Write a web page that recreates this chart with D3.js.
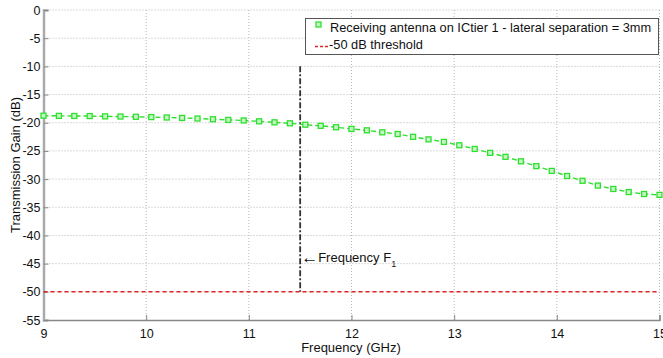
<!DOCTYPE html>
<html><head><meta charset="utf-8">
<script src="https://cdn.jsdelivr.net/npm/d3@7"></script>
<style>
body{margin:0;background:#fff;}
text{font-family:"Liberation Sans",Arial,Helvetica,sans-serif;}
</style></head>
<body><svg id="c" width="663" height="358"></svg>
<script>
const freq = [9.00,9.15,9.30,9.45,9.60,9.75,9.90,10.05,10.20,10.35,10.50,10.65,10.80,10.95,11.10,11.25,11.40,11.55,11.70,11.85,12.00,12.15,12.30,12.45,12.60,12.75,12.90,13.05,13.20,13.35,13.50,13.65,13.80,13.95,14.10,14.25,14.40,14.55,14.70,14.85,15.00];
const gain = [-18.75,-18.78,-18.80,-18.82,-18.87,-18.90,-18.95,-19.00,-19.07,-19.15,-19.25,-19.38,-19.50,-19.60,-19.75,-19.93,-20.10,-20.35,-20.55,-20.80,-21.10,-21.35,-21.70,-22.00,-22.50,-22.95,-23.40,-24.00,-24.65,-25.35,-26.05,-26.85,-27.70,-28.55,-29.45,-30.30,-31.15,-31.75,-32.30,-32.65,-32.80];
const threshold = -50;
const f1 = 11.5;
const f1Top = -10;
const xTicks = [9,10,11,12,13,14,15];
const yTicks = [0,-5,-10,-15,-20,-25,-30,-35,-40,-45,-50,-55];
const seriesLabel = "Receiving antenna on ICtier 1 - lateral separation = 3mm";
const thresholdLabel = "-50 dB threshold";

const svg = d3.select("#c");
const L=43.5, R=659.5, T=10, B=320;
const x = d3.scaleLinear().domain([9,15]).range([L,R]);
const y = d3.scaleLinear().domain([-55,0]).range([B,T]);
const green = "#2ee02e", red = "#e02424";

// grid
const g = svg.append("g");
g.selectAll("line.gx").data(xTicks.slice(1)).enter().append("line")
 .attr("x1",d=>x(d)).attr("x2",d=>x(d)).attr("y1",T).attr("y2",B)
 .attr("stroke","#b8b8b8").attr("stroke-width",1).attr("stroke-dasharray","1,2");
g.selectAll("line.gy").data(yTicks.slice(0,-1)).enter().append("line")
 .attr("x1",L).attr("x2",R).attr("y1",d=>y(d)).attr("y2",d=>y(d))
 .attr("stroke","#b8b8b8").attr("stroke-width",1).attr("stroke-dasharray","1,2");

// axes
const fmt = d=>String(d);
const xAxis = d3.axisBottom(x).tickValues(xTicks).tickSize(-5).tickPadding(9).tickFormat(fmt);
const yAxis = d3.axisLeft(y).tickValues(yTicks).tickSize(-5).tickPadding(3).tickFormat(fmt);
const gx = svg.append("g").attr("transform",`translate(0,${B})`).call(xAxis);
const gy = svg.append("g").attr("transform",`translate(${L},0)`).call(yAxis);
gx.select(".domain").attr("stroke","#888").attr("stroke-width",1.5);
gy.select(".domain").attr("stroke","#aaa").attr("stroke-width",2.5);
[gx,gy].forEach(a=>{a.selectAll(".tick line").attr("stroke","#888");
 a.selectAll(".tick text").attr("fill","#111").style("font-size","12.5px").style("font-family","Liberation Sans, Arial, sans-serif");});

// threshold
svg.append("line").attr("x1",x(9)).attr("x2",x(15)).attr("y1",y(threshold)).attr("y2",y(threshold))
 .attr("stroke",red).attr("stroke-width",1.6).attr("stroke-dasharray","4,3");

// F1 line
svg.append("line").attr("x1",x(f1)).attr("x2",x(f1)).attr("y1",y(f1Top)).attr("y2",y(threshold))
 .attr("stroke","#333").attr("stroke-width",1.8).attr("stroke-dasharray","6,2,2,2");

// series
const pts = freq.map((f,i)=>[f,gain[i]]);
svg.append("path").datum(pts).attr("fill","none").attr("stroke",green).attr("stroke-width",1.4)
 .attr("stroke-dasharray","5,3")
 .attr("d",d3.line().x(d=>x(d[0])).y(d=>y(d[1])));
svg.selectAll("rect.m").data(pts).enter().append("rect")
 .attr("x",d=>x(d[0])-2.5).attr("y",d=>y(d[1])-2.5).attr("width",5).attr("height",5)
 .attr("fill","#c8f5c8").attr("stroke",green).attr("stroke-width",1.3);

// annotation
const ann = svg.append("text").attr("x",x(f1)+1).attr("y",262).style("font-size","13px").attr("fill","#111");
ann.append("tspan").style("font-size","17px").attr("dy",1).text("\u2190");
ann.append("tspan").attr("dy",-1).text("Frequency F");
ann.append("tspan").attr("dy",5).style("font-size","9px").text("1");

// axis labels
svg.append("text").attr("x",351).attr("y",352).attr("text-anchor","middle").style("font-size","13px").attr("fill","#111").text("Frequency (GHz)");
svg.append("text").attr("transform",`translate(20,${(T+B)/2}) rotate(-90)`).attr("text-anchor","middle").style("font-size","13px").attr("fill","#111").text("Transmission Gain (dB)");

// legend
const lg = svg.append("g");
lg.append("rect").attr("x",305.5).attr("y",18.5).attr("width",353).attr("height",36).attr("fill","#fff").attr("stroke","#555").attr("stroke-width",1);
lg.append("rect").attr("x",316).attr("y",22).attr("width",5).attr("height",5).attr("fill","#c8f5c8").attr("stroke",green).attr("stroke-width",1.3);
lg.append("text").attr("x",330).attr("y",32).style("font-size","12.8px").attr("fill","#111").text(seriesLabel);
lg.append("line").attr("x1",315).attr("x2",329).attr("y1",46.5).attr("y2",46.5).attr("stroke",red).attr("stroke-width",1.6).attr("stroke-dasharray","3,2");
lg.append("text").attr("x",329).attr("y",49).style("font-size","12.8px").attr("fill","#111").text(thresholdLabel);
</script></body></html>
